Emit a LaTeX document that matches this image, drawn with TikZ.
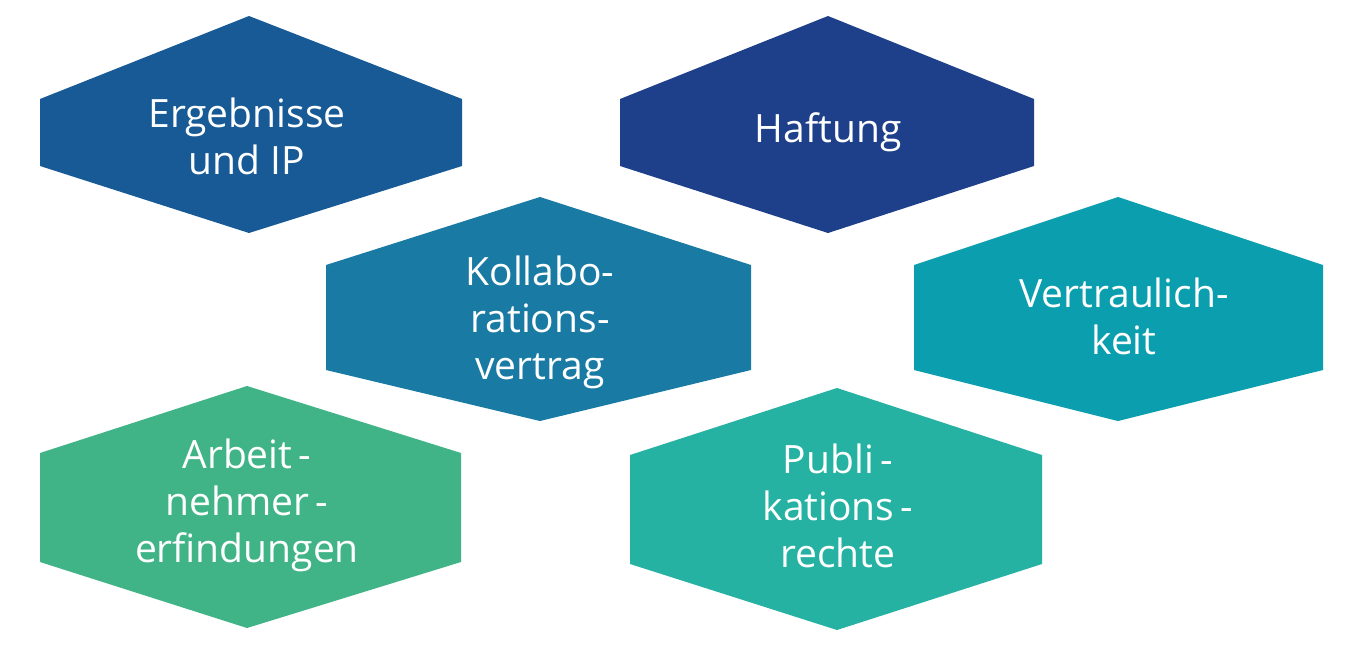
\documentclass[tikz,border=0pt]{standalone}
\usepackage{fontspec}
\setmainfont{Open Sans}
\definecolor{hexblue}{HTML}{185A96}
\definecolor{hexnavy}{HTML}{1E408A}
\definecolor{hexpetrol}{HTML}{197AA3}
\definecolor{hexteal}{HTML}{0A9EAE}
\definecolor{hexgreen}{HTML}{40B486}
\definecolor{hexmint}{HTML}{26B2A3}
\tikzset{
  hexlabel/.style={text=white, align=center, inner sep=0pt,
    font=\fontsize{39}{47}\selectfont}
}
\begin{document}
\begin{tikzpicture}[x=1pt, y=-1pt]
        \useasboundingbox[fill=white] (0,0) rectangle (1368,648);

        % Hexagons
        \fill[hexblue] (40,99) -- (249,16) -- (462,99) -- (462,166) -- (249,233) -- (40,166) -- cycle;
        \fill[hexnavy] (620,99) -- (828,16) -- (1034,99) -- (1034,166) -- (828,233) -- (620,166) -- cycle;
        \fill[hexpetrol] (326,265) -- (540,197) -- (751,265) -- (751,370) -- (540,421) -- (326,370) -- cycle;
        \fill[hexteal] (914,265) -- (1118,197) -- (1323,265) -- (1323,370) -- (1118,421) -- (914,370) -- cycle;
        \fill[hexgreen] (40,453) -- (247,386) -- (461,453) -- (461,562) -- (247,628) -- (40,562) -- cycle;
        \fill[hexmint] (630,455) -- (837,388) -- (1042,455) -- (1042,564) -- (837,630) -- (630,564) -- cycle;

        % Labels
        \node[hexlabel] (ergebnisse) at (247,136) {Ergebnisse\\und IP};
        \node[hexlabel] (haftung) at (828,132) {Haftung};
        \node[hexlabel] (kollab) at (540,322) {Kollabo-\\rations-\\vertrag};
        \node[hexlabel] (vertraul) at (1124,316) {Vertraulich-\\keit};
        \node[hexlabel] (arbeitn) at (247,505) {Arbeit\,-\\nehmer\,-\\erfindungen};
        \node[hexlabel] (publik) at (838,506) {Publi\,-\\kations\,-\\rechte};
    \end{tikzpicture}
\end{document}
